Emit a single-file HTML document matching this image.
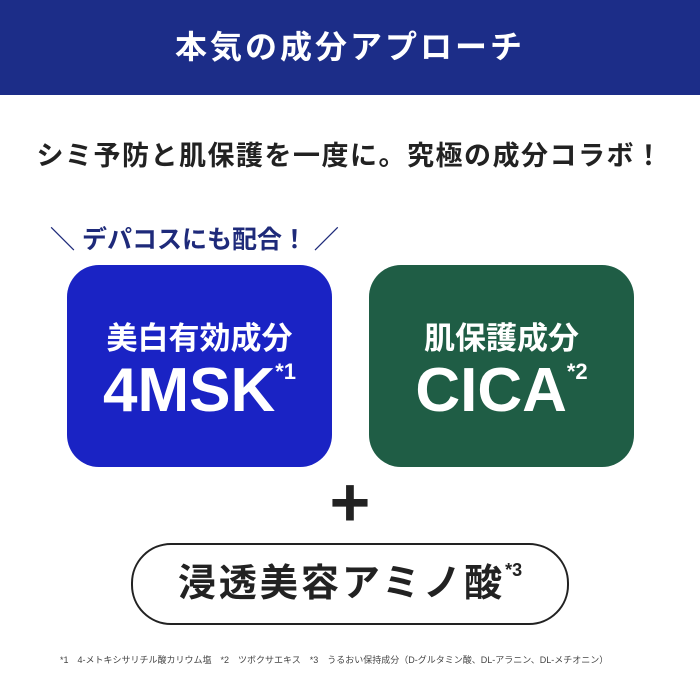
<!DOCTYPE html>
<html><head><meta charset="utf-8"><style>
body{margin:0;width:700px;height:700px;background:#fff;position:relative;overflow:hidden;font-family:"Liberation Sans","Noto Sans CJK JP",sans-serif}
.a{position:absolute}
.hdr{left:0;top:0;width:700px;height:95px;background:#1c2d88;color:#fff;font-size:32px;font-weight:bold;text-align:center;line-height:95px;letter-spacing:3px}
.sub{left:0;width:700px;top:134px;text-align:center;font-size:27px;font-weight:bold;color:#222;letter-spacing:1.5px}
.dep{left:50px;top:220px;font-size:25px;font-weight:bold;color:#1e2a7a}
.box{top:265px;width:265px;height:202px;border-radius:32px;color:#fff;text-align:center}
.b1{left:67px;background:#1a23c4}
.b2{left:369px;background:#1f5d45}
.t1{position:absolute;left:0;width:100%;top:48px;font-size:31px;font-weight:bold}
.t2{position:absolute;left:0;width:100%;top:90px;font-size:62px;font-weight:bold}
.t2 sup{font-size:22px;vertical-align:top;position:relative;top:4px}
.plus{left:0;width:700px;top:462px;text-align:center;font-size:70px;font-weight:bold;color:#222;line-height:80px}
.pill{left:131px;top:543px;width:434px;height:78px;border:2px solid #222;border-radius:40px;text-align:center;line-height:78px;font-size:38px;font-weight:bold;color:#222;letter-spacing:3px}
.pill sup{font-size:18px;vertical-align:top;position:relative;top:-14px;letter-spacing:0}
.fn{left:60px;top:653px;font-size:9px;color:#444;white-space:nowrap}
</style></head><body>
<div class="a hdr">本気の成分アプローチ</div>
<div class="a sub">シミ予防と肌保護を一度に。究極の成分コラボ！</div>
<div class="a dep">＼ デパコスにも配合！ ／</div>
<div class="a box b1"><div class="t1">美白有効成分</div><div class="t2">4MSK<sup>*1</sup></div></div>
<div class="a box b2"><div class="t1">肌保護成分</div><div class="t2">CICA<sup>*2</sup></div></div>
<div class="a plus">+</div>
<div class="a pill">浸透美容アミノ酸<sup>*3</sup></div>
<div class="a fn">*1　4-メトキシサリチル酸カリウム塩　*2　ツボクサエキス　*3　うるおい保持成分（D-グルタミン酸、DL-アラニン、DL-メチオニン）</div>
</body></html>
